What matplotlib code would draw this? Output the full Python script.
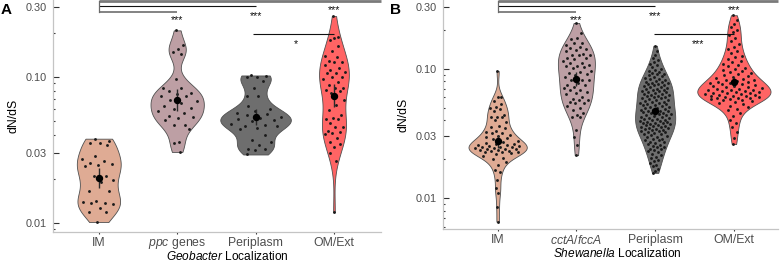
import numpy as np
import matplotlib
matplotlib.use("Agg")
import matplotlib.pyplot as plt
from matplotlib.ticker import FixedLocator

plt.rcParams['font.family'] = ['Liberation Sans', 'DejaVu Sans']
plt.rcParams['mathtext.fontset'] = 'custom'
plt.rcParams['mathtext.rm'] = 'Liberation Sans'
plt.rcParams['mathtext.it'] = 'Liberation Sans:italic'

# ---------------- data ----------------
categories_A = ["IM", r"$\it{ppc}$ genes", "Periplasm", "OM/Ext"]
categories_B = ["IM", r"$\it{cctA/fccA}$", "Periplasm", "OM/Ext"]
xlabel_A = r"$\it{Geobacter}$ Localization"
xlabel_B = r"$\it{Shewanella}$ Localization"
ylabel = "dN/dS"

ytick_values = [0.01, 0.03, 0.10, 0.30]
ytick_labels = ["0.01", "0.03", "0.10", "0.30"]
minor_A = [0.009, 0.02, 0.04, 0.05, 0.06, 0.07, 0.08, 0.09, 0.2]
minor_B = [0.006, 0.007, 0.008, 0.009, 0.02, 0.04, 0.05, 0.06, 0.07, 0.08, 0.09, 0.2]

A_IM = [0.0376, 0.0364, 0.0353, 0.0353, 0.0340, 0.0286, 0.0272, 0.0264, 0.0255,
        0.0251, 0.0250, 0.0244, 0.0209, 0.0209, 0.0195, 0.0191, 0.0165, 0.0165,
        0.0141, 0.0138, 0.0137, 0.0137, 0.0134, 0.0127, 0.0118, 0.0118, 0.0101]
A_ppc = [0.2075, 0.164, 0.155, 0.148, 0.142, 0.0968, 0.0832, 0.0832, 0.0797,
         0.0776, 0.0760, 0.0736, 0.0736, 0.0692, 0.0678, 0.0656, 0.0626, 0.0612,
         0.0600, 0.0585, 0.0561, 0.0537, 0.0527, 0.0519, 0.0502, 0.0469, 0.0467,
         0.0440, 0.0355, 0.0349, 0.0305]
A_peri = [0.1019, 0.1009, 0.0995, 0.0989, 0.0938, 0.0840, 0.0736, 0.0736, 0.0632,
          0.0603, 0.0582, 0.0566, 0.0552, 0.0542, 0.0530, 0.0519, 0.0513, 0.0505,
          0.0497, 0.0476, 0.0466, 0.0459, 0.0459, 0.0443, 0.0436, 0.0400, 0.0368,
          0.0355, 0.0340, 0.0321, 0.0318, 0.0315, 0.0293]
A_om = [0.260, 0.188, 0.183, 0.178, 0.163, 0.151, 0.139, 0.137, 0.1285, 0.1254,
        0.1254, 0.1202, 0.1151, 0.1110, 0.1081, 0.1064, 0.1054, 0.1000, 0.0989,
        0.0964, 0.0919, 0.0877, 0.0840, 0.0832, 0.0811, 0.0797, 0.0776, 0.0692,
        0.0640, 0.0591, 0.0546, 0.0521, 0.0510, 0.0510, 0.0484, 0.0454, 0.0454,
        0.0425, 0.0420, 0.0409, 0.0403, 0.0380, 0.0358, 0.0344, 0.0328, 0.0300,
        0.0264, 0.0118]

B_IM = [0.0958, 0.0607, 0.0600, 0.0566, 0.053, 0.0505, 0.0494, 0.0485, 0.047,
        0.0438, 0.0426, 0.0421, 0.042, 0.0401, 0.0390, 0.036, 0.0357, 0.0346,
        0.033, 0.0326, 0.0321, 0.0317, 0.0309, 0.0302, 0.0298,
        0.0291, 0.0284, 0.0276, 0.0270, 0.0266, 0.0262, 0.0260, 0.0258,
        0.0256, 0.0254, 0.0252, 0.0250, 0.0249, 0.0247, 0.0245, 0.0243, 0.0241,
        0.0240, 0.0238, 0.0236, 0.0235, 0.0233, 0.0231, 0.0229, 0.0228, 0.0226,
        0.0222, 0.0219, 0.0213, 0.0205, 0.0200,
        0.0191, 0.0181, 0.0165, 0.0160, 0.0138, 0.0119, 0.0109, 0.0086, 0.0066]
B_cct = [0.225, 0.187, 0.173, 0.168, 0.1565, 0.1565, 0.152, 0.1476, 0.145, 0.1406,
         0.139, 0.1374, 0.130, 0.1273, 0.1273, 0.1273, 0.120, 0.120, 0.1178, 0.115,
         0.1111, 0.1097, 0.1066, 0.1053, 0.105, 0.1022, 0.1004, 0.0963, 0.0946,
         0.092, 0.0908, 0.0892, 0.0856, 0.0816, 0.0816, 0.0816, 0.078, 0.0747,
         0.0747, 0.0717, 0.0704, 0.0684, 0.0684, 0.066, 0.0645, 0.0637, 0.060,
         0.0579, 0.0573, 0.0573, 0.0556, 0.0540, 0.0540, 0.0515, 0.050, 0.0479,
         0.0452, 0.0439, 0.0426, 0.0421, 0.0336, 0.0298, 0.0257, 0.0215]
B_peri = [0.150, 0.136, 0.127,
          0.121, 0.116, 0.112, 0.109, 0.106, 0.103,
          0.100, 0.0981, 0.0962, 0.0948, 0.0931, 0.0915, 0.0901, 0.0889,
          0.0876, 0.0861, 0.0846, 0.0835, 0.0824, 0.0812, 0.0801,
          0.0795, 0.0785, 0.0781, 0.0770, 0.0762, 0.0758, 0.0746, 0.0741, 0.0735,
          0.0722, 0.0718, 0.0713, 0.0701, 0.0698, 0.0686, 0.0683, 0.0672, 0.0668,
          0.0660, 0.0657, 0.0649, 0.0642, 0.0639, 0.0631,
          0.0628, 0.0619, 0.0614, 0.0606, 0.0603, 0.0593, 0.0589, 0.0581, 0.0577,
          0.0568, 0.0565, 0.0557, 0.0553, 0.0545, 0.0542, 0.0534, 0.0531, 0.0522,
          0.0520, 0.0512, 0.0509, 0.0504, 0.0497, 0.0493, 0.0488, 0.0481,
          0.0479, 0.0475, 0.0469, 0.0467, 0.0461, 0.0459, 0.0453, 0.0451, 0.0445,
          0.0443, 0.0437, 0.0435, 0.0431, 0.0426, 0.0424, 0.0418, 0.0416, 0.0411,
          0.0409, 0.0403, 0.0402, 0.0396, 0.0395, 0.0389, 0.0388, 0.0383, 0.0381,
          0.0378, 0.0373, 0.0371, 0.0366, 0.0365, 0.0360, 0.0358, 0.0353, 0.0352,
          0.0347, 0.0346, 0.0341, 0.0340, 0.0335, 0.0334, 0.0329, 0.0328, 0.0323,
          0.0322, 0.0317, 0.0314, 0.0311, 0.0307, 0.0304,
          0.0299, 0.0295, 0.0289, 0.0287, 0.0281, 0.0279, 0.0273, 0.0271, 0.0265,
          0.0263, 0.0257, 0.0255, 0.0249, 0.0247, 0.0241, 0.0239, 0.0234, 0.0231,
          0.0227, 0.0219, 0.0216, 0.0207, 0.0203, 0.0196, 0.0193, 0.0186, 0.0182,
          0.0177, 0.0168, 0.0163, 0.0157]
B_om = [0.258, 0.236, 0.221, 0.209, 0.198, 0.190,
        0.181, 0.172, 0.163, 0.154, 0.147, 0.141,
        0.136, 0.131, 0.126, 0.122, 0.118, 0.115, 0.112, 0.109, 0.106, 0.104,
        0.1015, 0.0995, 0.0978, 0.0962, 0.0941, 0.0925, 0.0908, 0.0889, 0.0871,
        0.0856, 0.0843, 0.0832, 0.0821, 0.0812,
        0.0803, 0.0795, 0.0787, 0.0778, 0.0770, 0.0762, 0.0754, 0.0746, 0.0738,
        0.0730, 0.0722, 0.0715, 0.0708, 0.0701, 0.0694, 0.0688, 0.0682,
        0.0678, 0.0673, 0.0668, 0.0663, 0.0658, 0.0653, 0.0648, 0.0643, 0.0638,
        0.0633, 0.0629, 0.0624, 0.0620, 0.0615, 0.0611, 0.0606, 0.0602, 0.0598,
        0.0593, 0.0589, 0.0585, 0.0580, 0.0576, 0.0572,
        0.0563, 0.0552, 0.0541, 0.0530, 0.0518, 0.0505, 0.0491, 0.0478,
        0.0455, 0.0428, 0.0402, 0.0379,
        0.0355, 0.0322, 0.0291, 0.0262]

groups_A = [A_IM, A_ppc, A_peri, A_om]
groups_B = [B_IM, B_cct, B_peri, B_om]

# significance brackets: (x_start, x_end, y_value)
brackets_A = [(0, 1, 0.276), (0, 2, 0.3047), (0, 3.6, 0.332), (1.97, 3, 0.195)]
brackets_B = [(0, 1, 0.2716), (0, 2, 0.3037), (0, 3.56, 0.3335), (1.98, 3, 0.1837)]
sig_A = [(1, 0.256, "***"), (2, 0.274, "***"), (3, 0.300, "***"), (2.52, 0.176, "*")]
sig_B = [(1, 0.248, "***"), (2, 0.270, "***"), (3, 0.300, "***"), (2.54, 0.164, "***")]

# ---------------- style ----------------
colors = ["#DFAB94", "#BD9FA4", "#6E6E6E", "#FF6464"]
widths_A = [0.56, 0.68, 0.90, 0.38]
widths_B = [0.74, 0.47, 0.51, 0.93]
bracket_styles = [("#6e6e6e", 1.2), ("#111111", 0.8), ("#7a7a7a", 2.0), ("#111111", 0.8)]


def nrd0(x):
    sd = np.std(x, ddof=1)
    q75, q25 = np.percentile(x, [75, 25])
    lo = min(sd, (q75 - q25) / 1.34)
    if lo <= 0:
        lo = sd
    return 0.9 * lo * len(x) ** -0.2


def gauss(grid, data, bw):
    return np.exp(-0.5 * ((grid[:, None] - data[None, :]) / bw) ** 2).sum(axis=1)


def draw_panel(ax, groups, widths, cats, xlab, ylims, xlims, minors,
               brackets, sigs, xlab_x):
    for i, (vals, col, w) in enumerate(zip(groups, colors, widths)):
        lv = np.log10(np.asarray(vals, dtype=float))
        n = len(lv)
        bw = nrd0(lv)
        sd = np.std(lv, ddof=1)
        vp = ax.violinplot([lv], positions=[i], widths=w, showextrema=False,
                           bw_method=bw / sd, points=300)
        for b in vp['bodies']:
            b.set_facecolor(col)
            b.set_edgecolor('#505050')
            b.set_linewidth(0.6)
            b.set_alpha(1)
            b.set_zorder(2)
        grid = np.linspace(lv.min(), lv.max(), 300)
        dmax = gauss(grid, lv, bw).max()
        d = gauss(lv, lv, bw) / dmax
        u = ((np.arange(n) * 0.6180339887 + 0.31) % 1.0) * 2 - 1
        xs = i + u * 0.82 * (w / 2) * d
        ax.scatter(xs, lv, s=4.2, color='#1a1a1a', linewidths=0, zorder=3)
        m = lv.mean()
        se = sd / np.sqrt(n)
        t = 1.96 + 2.4 / (n - 1)
        ax.plot([i, i], [m - t * se, m + t * se], color='#2a2a2a', lw=1.0,
                zorder=4, solid_capstyle='butt')
        ax.plot([i], [m], 'o', ms=4.3, color='black', zorder=5)

    # brackets
    for (x0, x1, yv), (c, lw) in zip(brackets, bracket_styles):
        ax.plot([x0, x1], [np.log10(yv)] * 2, color=c, lw=lw, clip_on=False,
                solid_capstyle='butt', zorder=6)
    top = np.log10(brackets[2][2])
    ax.plot([0, 0], [np.log10(brackets[0][2]), top], color='#6a6a6a', lw=0.9,
            clip_on=False, zorder=6)
    for x, yv, s in sigs:
        ax.annotate(s, (x, np.log10(yv)), xytext=(0, -4.3),
                    textcoords='offset points', ha='center', va='baseline',
                    fontsize=7.8, color='#111111', annotation_clip=False)

    ax.set_xlim(*xlims)
    ax.set_ylim(*ylims)
    ax.set_xticks(range(len(cats)))
    ax.set_xticklabels(cats, fontsize=8.8, color='#4d4d4d')
    ax.set_yticks(np.log10(ytick_values))
    ax.set_yticklabels(ytick_labels, fontsize=7.8, color='#4d4d4d')
    ax.yaxis.set_minor_locator(FixedLocator(np.log10(minors)))
    ax.tick_params(axis='y', which='major', direction='in', length=4.5,
                   width=0.8, color='#333333', pad=4.6)
    ax.tick_params(axis='y', which='minor', direction='in', length=1.6,
                   width=0.8, color='#333333')
    ax.tick_params(axis='x', which='major', direction='out', length=1.6,
                   width=0.8, color='#333333', pad=1.8)
    for s in ['top', 'right']:
        ax.spines[s].set_visible(False)
    for s in ['left', 'bottom']:
        ax.spines[s].set_color('#c4c4c4')
        ax.spines[s].set_linewidth(0.9)
    ax.set_ylabel(ylabel, fontsize=8.8, labelpad=4.5)
    ax.set_xlabel(xlab, fontsize=8.6)
    ax.xaxis.set_label_coords(xlab_x, -0.077)


fig = plt.figure(figsize=(7.81, 2.64), dpi=100)
axA = fig.add_axes([53.3 / 781, 1 - 232.3 / 264, (381 - 53.3) / 781, 232.3 / 264])
axB = fig.add_axes([443.3 / 781, 1 - 229 / 264, (778 - 443.3) / 781, 229 / 264])

draw_panel(axA, groups_A, widths_A, categories_A, xlabel_A, (-2.066, -0.475),
           (-0.58, 3.6), minor_A, brackets_A, sig_A, 0.53)
draw_panel(axB, groups_B, widths_B, categories_B, xlabel_B, (-2.237, -0.471),
           (-0.69, 3.56), minor_B, brackets_B, sig_B, 0.52)

fig.text(0.5 / 781, 1 - 14 / 264, "A", fontsize=11, fontweight='bold', va='baseline')
fig.text(390 / 781, 1 - 14 / 264, "B", fontsize=11, fontweight='bold', va='baseline')

fig.savefig("out.png", dpi=100)
